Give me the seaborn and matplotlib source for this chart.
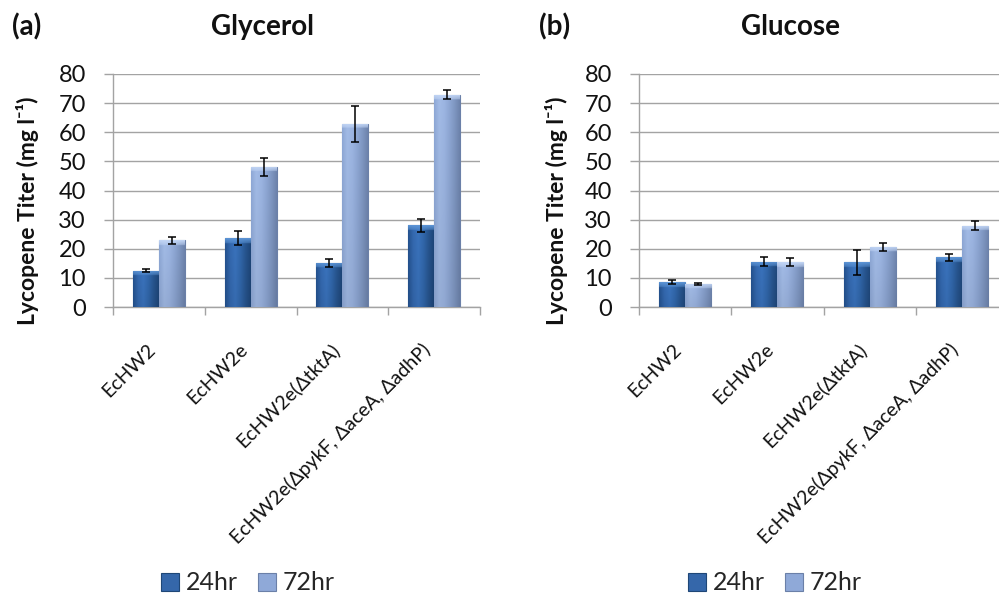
import numpy as np
import pandas as pd
import matplotlib
matplotlib.use("Agg")
import matplotlib.pyplot as plt
import seaborn as sns
from matplotlib.patches import Patch
from matplotlib.colors import to_rgb

# ---------------- data ----------------
strains = ["EcHW2", "EcHW2e", "EcHW2e(ΔtktA)", "EcHW2e(ΔpykF, ΔaceA, ΔadhP)"]
times = ["24hr", "72hr"]

glycerol_24 = [12.5, 23.6, 15.2, 28.0]
glycerol_24_err = [0.6, 2.4, 1.4, 2.1]
glycerol_72 = [22.9, 48.1, 62.9, 72.9]
glycerol_72_err = [1.1, 3.0, 6.2, 1.5]

glucose_24 = [8.5, 15.6, 15.4, 17.1]
glucose_24_err = [0.75, 1.4, 4.3, 1.2]
glucose_72 = [8.0, 15.4, 20.7, 27.9]
glucose_72_err = [0.3, 1.3, 1.4, 1.6]

y_ticks = [0, 10, 20, 30, 40, 50, 60, 70, 80]
y_label = "Lycopene Titer (mg l\u207b\u00b9)"

# ---------------- style ----------------
sns.set_theme(style="white")
plt.rcParams["font.family"] = ["Lato", "DejaVu Sans"]

W, H = 999, 598
fig = plt.figure(figsize=(W / 100, H / 100), dpi=100)

dark_profile = ["#24528f", "#3469b0", "#3a73bd", "#3167ab", "#27558f", "#1e4679"]
light_profile = ["#8ea8d6", "#a2bbe6", "#9cb5e2", "#8ea7d4", "#7f97c2", "#6e84ad"]
dark_top = "#5d95d6"
light_top = "#c3d6f5"
colors = {"24hr": "#3567aa", "72hr": "#8fa9d8"}
edges = {"24hr": "#1f4777", "72hr": "#6b80a8"}
grid_color = "#a3a3a3"


def make_df(v24, v72, e24, e72):
    rows = []
    for s, a, b, ea, eb in zip(strains, v24, v72, e24, e72):
        rows.append({"strain": s, "time": "24hr", "value": a, "err": ea})
        rows.append({"strain": s, "time": "72hr", "value": b, "err": eb})
    return pd.DataFrame(rows)


def shade_bar(ax, p, profile, top, ax_h_px):
    x0 = p.get_x()
    w = p.get_width()
    h = p.get_height()
    if h <= 0:
        return
    cols = np.array([to_rgb(c) for c in profile])
    nx = 60
    xs = np.linspace(0, 1, nx)
    idx = np.linspace(0, 1, len(cols))
    row = np.stack([np.interp(xs, idx, cols[:, k]) for k in range(3)], axis=1)
    ny = 200
    img = np.repeat(row[None, :, :], ny, axis=0)
    fade = np.linspace(1.0, 0.93, ny)[:, None, None]
    img = img * fade
    bar_px = h / 80 * ax_h_px
    frac = min(0.5, 5.0 / max(bar_px, 1))
    nt = max(1, int(round(frac * ny)))
    tcol = np.array(to_rgb(top))
    for i in range(nt):
        a = 1 - i / nt * 0.6
        img[i] = img[i] * (1 - a) + tcol * a
    im = ax.imshow(img, extent=(x0, x0 + w, 0, h), origin="upper",
                   aspect="auto", zorder=p.get_zorder() + 0.1, interpolation="bilinear")
    im.set_clip_path(p)


def draw_panel(rect, df, title, letter, title_x, letter_x, ylabel_x, legend_x):
    ax = fig.add_axes(rect)
    sns.barplot(data=df, x="strain", y="value", hue="time", order=strains,
                hue_order=times, palette=colors, width=0.565, gap=0,
                errorbar=None, ax=ax, legend=False, zorder=3)
    ax.set_ylim(0, 80)
    ax.set_xlim(-0.5, 3.5)
    ax_h_px = rect[3] * H

    bars = list(ax.patches)
    n = len(strains)
    for hi, t in enumerate(times):
        sub = df[df["time"] == t].set_index("strain").loc[strains]
        for ci in range(n):
            p = bars[hi * n + ci]
            p.set_edgecolor(edges[t])
            p.set_linewidth(0.8)
            shade_bar(ax, p, dark_profile if t == "24hr" else light_profile,
                      dark_top if t == "24hr" else light_top, ax_h_px)
            cx = p.get_x() + p.get_width() / 2
            ax.errorbar(cx, sub["value"].iloc[ci], yerr=sub["err"].iloc[ci],
                        fmt="none", ecolor="black", elinewidth=1.1,
                        capsize=2.6, capthick=1.1, zorder=6)

    ax.set_yticks(y_ticks)
    ax.set_yticklabels([str(v) for v in y_ticks], fontsize=17, color="#111111")
    ax.yaxis.grid(True, color=grid_color, linewidth=1.0, zorder=0)
    ax.set_axisbelow(True)
    ax.tick_params(axis="y", which="major", direction="out", length=6.5,
                   color=grid_color, width=1.0, pad=13, left=True)

    ax.set_xticks(range(n))
    ax.set_xticklabels(strains, rotation=45, ha="right", fontsize=14, color="#111111")
    ax.set_xticks(np.arange(-0.5, n, 1.0), minor=True)
    ax.tick_params(axis="x", which="major", length=0, pad=24)
    ax.tick_params(axis="x", which="minor", direction="out", length=6,
                   color=grid_color, width=1.0, bottom=True)
    ax.set_xlabel("")
    ax.set_ylabel("")
    for s in ["top", "right"]:
        ax.spines[s].set_visible(False)
    for s in ["left", "bottom"]:
        ax.spines[s].set_color(grid_color)
        ax.spines[s].set_linewidth(1.0)

    fig.text(title_x / W, 1 - 27 / H, title, ha="center", va="center",
             fontsize=20, fontweight="bold", color="#111111")
    fig.text(letter_x / W, 1 - 27 / H, letter, ha="center", va="center",
             fontsize=20, fontweight="bold", color="#111111")
    fig.text(ylabel_x / W, 1 - 211 / H, y_label, rotation=90, ha="center",
             va="center", fontsize=16.5, fontweight="bold", color="#111111")

    handles = [Patch(facecolor=colors[t], edgecolor=edges[t], linewidth=0.8) for t in times]
    ax.legend(handles, times, loc="center", bbox_to_anchor=(legend_x / W, 1 - 583 / H),
              bbox_transform=fig.transFigure, ncol=2, frameon=False, fontsize=18,
              handlelength=0.7, handleheight=0.7, handletextpad=0.3,
              columnspacing=0.8, borderpad=0)
    return ax


draw_panel([113 / W, 1 - 307 / H, 367 / W, 233 / H],
           make_df(glycerol_24, glycerol_72, glycerol_24_err, glycerol_72_err),
           "Glycerol", "(a)", 263, 27, 28, 248)
draw_panel([639 / W, 1 - 307 / H, 369 / W, 233 / H],
           make_df(glucose_24, glucose_72, glucose_24_err, glucose_72_err),
           "Glucose", "(b)", 790, 555, 557, 775)

fig.savefig("out.png", dpi=100)
